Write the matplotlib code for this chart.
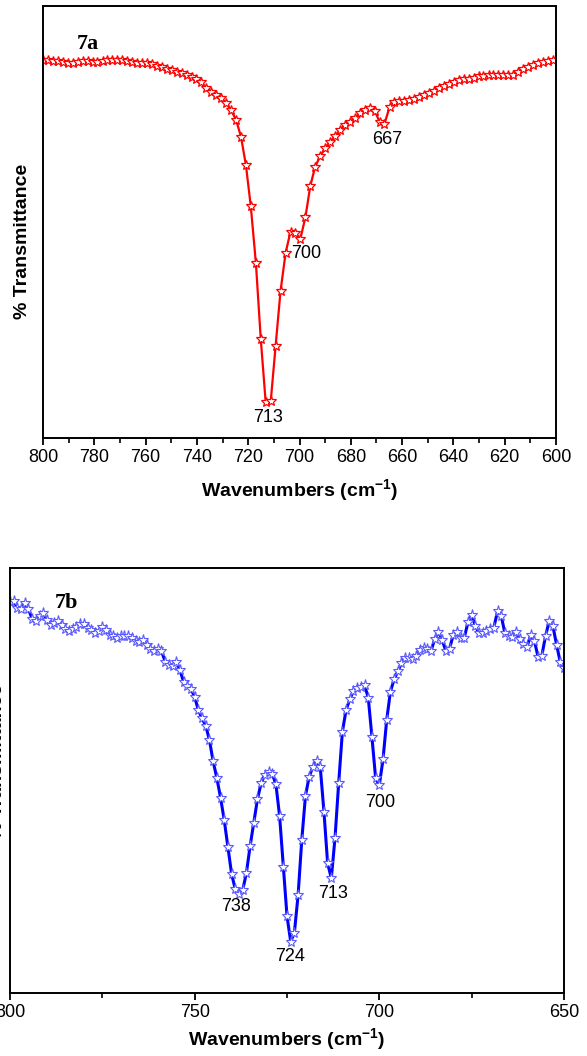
import numpy as np
import matplotlib.pyplot as plt
from matplotlib.ticker import MultipleLocator

plt.rcParams['font.family'] = ['Liberation Sans', 'DejaVu Sans']

# 7a spectrum (wavenumber, relative transmittance)
wn_a = [800.0, 798.1, 796.1, 794.2, 792.3, 790.4, 788.4, 786.5, 784.6, 782.6,
        780.7, 778.8, 776.8, 774.9, 773.0, 771.1, 769.1, 767.2, 765.3, 763.3,
        761.4, 759.5, 757.5, 755.6, 753.7, 751.8, 749.8, 747.9, 746.0, 744.0,
        742.1, 740.2, 738.3, 736.3, 734.4, 732.5, 730.5, 728.6, 726.7, 724.7,
        722.8, 720.9, 719.0, 717.0, 715.1, 713.2, 711.2, 709.3, 707.4, 705.4,
        703.5, 701.6, 699.7, 697.7, 695.8, 693.9, 691.9, 690.0, 688.1, 686.2,
        684.2, 682.3, 680.4, 678.4, 676.5, 674.6, 672.6, 670.7, 668.8, 666.9,
        664.9, 663.0, 661.1, 659.1, 657.2, 655.3, 653.3, 651.4, 649.5, 647.6,
        645.6, 643.7, 641.8, 639.8, 637.9, 636.0, 634.1, 632.1, 630.2, 628.3,
        626.3, 624.4, 622.5, 620.5, 618.6, 616.7, 614.8, 612.8, 610.9, 609.0,
        607.0, 605.1, 603.2, 601.2]
t_a = [87.6, 87.5, 87.3, 87.2, 87.0, 86.8, 86.9, 87.1, 87.2, 87.2,
       87.0, 87.1, 87.3, 87.4, 87.5, 87.6, 87.5, 87.3, 87.1, 86.9,
       86.8, 86.7, 86.5, 86.2, 85.9, 85.5, 85.2, 84.8, 84.4, 84.0,
       83.6, 83.1, 82.3, 81.0, 80.2, 79.4, 78.6, 77.6, 75.9, 73.6,
       69.7, 63.2, 53.7, 40.5, 22.9, 8.4, 8.6, 21.4, 34.0, 42.9,
       47.8, 47.5, 46.0, 51.1, 58.3, 62.8, 65.3, 67.1, 68.6, 69.9,
       71.3, 72.5, 73.2, 74.1, 75.2, 75.9, 76.5, 75.8, 73.2, 72.6,
       76.6, 77.8, 77.9, 77.9, 78.2, 78.5, 78.9, 79.4, 79.8, 80.3,
       81.0, 81.5, 82.0, 82.5, 82.8, 83.0, 83.2, 83.4, 83.7, 83.9,
       84.0, 84.1, 84.1, 84.1, 84.1, 84.1, 84.8, 85.4, 85.9, 86.3,
       86.7, 87.1, 87.3, 87.5]
peaks_a = [713, 700, 667]
peak_pos_a = [(712.2, 4.7), (697.2, 42.8), (665.8, 69.0)]

# 7b spectrum
wn_b = [800, 799, 798, 797, 796, 795, 794, 793, 792, 791, 790, 789, 788, 787, 786,
        785, 784, 783, 782, 781, 780, 779, 778, 777, 776, 775, 774, 773, 772, 771,
        770, 769, 768, 767, 766, 765, 764, 763, 762, 761, 760, 759, 758, 757, 756,
        755, 754, 753, 752, 751, 750, 749, 748, 747, 746, 745, 744, 743, 742, 741,
        740, 739, 738, 737, 736, 735, 734, 733, 732, 731, 730, 729, 728, 727, 726,
        725, 724, 723, 722, 721, 720, 719, 718, 717, 716, 715, 714, 713, 712, 711,
        710, 709, 708, 707, 706, 705, 704, 703, 702, 701, 700, 699, 698, 697, 696,
        695, 694, 693, 692, 691, 690, 689, 688, 687, 686, 685, 684, 683, 682, 681,
        680, 679, 678, 677, 676, 675, 674, 673, 672, 671, 670, 669, 668, 667, 666,
        665, 664, 663, 662, 661, 660, 659, 658, 657, 656, 655, 654, 653, 652, 651,
        650]
t_b = [92.0, 92.3, 90.6, 90.3, 91.7, 90.3, 88.0, 87.6, 88.6, 89.3, 87.8, 86.6, 87.0, 87.5, 86.5,
       85.6, 85.2, 85.6, 86.2, 86.8, 86.9, 85.8, 85.3, 84.6, 85.2, 86.1, 85.4, 84.2, 83.9, 83.5,
       84.0, 84.1, 84.0, 83.6, 82.8, 82.6, 83.1, 82.0, 81.0, 80.4, 80.9, 80.5, 78.0, 77.2, 77.0,
       78.0, 76.0, 73.2, 72.3, 71.6, 69.6, 66.6, 64.6, 62.9, 59.5, 54.5, 50.6, 46.0, 40.7, 34.4,
       28.0, 24.4, 23.4, 24.2, 28.2, 34.5, 40.0, 45.6, 49.4, 51.4, 51.9, 51.6, 49.1, 41.6, 29.7,
       18.1, 12.1, 14.2, 23.0, 36.0, 46.4, 50.9, 53.2, 54.6, 53.2, 42.7, 30.5, 27.0, 36.5, 49.5,
       61.5, 66.6, 69.1, 71.1, 71.7, 71.9, 72.4, 69.5, 60.2, 50.5, 48.9, 55.0, 64.3, 70.9, 73.8,
       75.7, 77.6, 78.8, 78.9, 78.7, 79.2, 80.7, 81.1, 80.9, 80.5, 83.3, 85.0, 83.1, 80.5, 81.0,
       84.2, 85.0, 83.6, 83.6, 87.2, 88.9, 86.4, 84.6, 84.8, 85.1, 85.6, 86.0, 89.8, 88.8, 84.6,
       84.0, 83.8, 85.0, 83.2, 82.2, 81.5, 84.3, 82.8, 79.0, 79.4, 84.0, 87.5, 86.3, 81.9, 77.8,
       76.4]
peaks_b = [738, 724, 713, 700]
peak_pos_b = [(738.8, 20.3), (724.2, 8.7), (712.6, 23.5), (699.8, 44.8)]

W, H = 587, 1056
fig = plt.figure(figsize=(W / 100, H / 100), dpi=100)

def box(l, t, r, b):
    return [l / W, 1 - b / H, (r - l) / W, (b - t) / H]

def style(ax, xmin, xmax, major, minor, pad):
    ax.set_xlim(xmin, xmax)
    ax.set_ylim(0, 100)
    ax.xaxis.set_major_locator(MultipleLocator(major))
    ax.xaxis.set_minor_locator(MultipleLocator(minor))
    ax.set_yticks([])
    ax.tick_params(axis='x', which='major', direction='out', length=5, width=1.3,
                   labelsize=13, pad=3)
    ax.tick_params(axis='x', which='minor', direction='out', length=3.5, width=1.2)
    for s in ax.spines.values():
        s.set_linewidth(1.4)
    ax.set_xlabel('Wavenumbers (cm$^{\\mathregular{-1}}$)', fontsize=14,
                  fontweight='bold', labelpad=pad)

# top panel
ax1 = fig.add_axes(box(43, 6, 556, 438))
ax1.plot(wn_a, t_a, '-', color='red', lw=1.6, marker='*', ms=7.5,
         mfc='white', mec='red', mew=0.9)
style(ax1, 800, 600, 20, 10, 8)
ax1.set_ylabel('% Transmittance', fontsize=14, fontweight='bold')
ax1.yaxis.set_label_coords(-0.024, 0.455)
ax1.text(0.088, 0.912, '7a', transform=ax1.transAxes, family='Liberation Serif',
         fontsize=16, fontweight='bold', ha='center', va='center')
for p, (x, y) in zip(peaks_a, peak_pos_a):
    ax1.text(x, y, str(p), fontsize=13, ha='center', va='center')

# bottom panel
ax2 = fig.add_axes(box(10, 568, 564, 993))
ax2.plot(wn_b, t_b, '-', color='#0000ff', lw=2.2, marker='*', ms=8,
         mfc='white', mec='#5a5aff', mew=0.8)
style(ax2, 800, 650, 50, 25, 4)
ax2.set_ylabel('% Transmittance', fontsize=14, fontweight='bold')
ax2.yaxis.set_label_coords(-0.007, 0.545)
ax2.text(0.101, 0.918, '7b', transform=ax2.transAxes, family='Liberation Serif',
         fontsize=16, fontweight='bold', ha='center', va='center')
for p, (x, y) in zip(peaks_b, peak_pos_b):
    ax2.text(x, y, str(p), fontsize=13, ha='center', va='center')

fig.savefig('out.png', dpi=100)
